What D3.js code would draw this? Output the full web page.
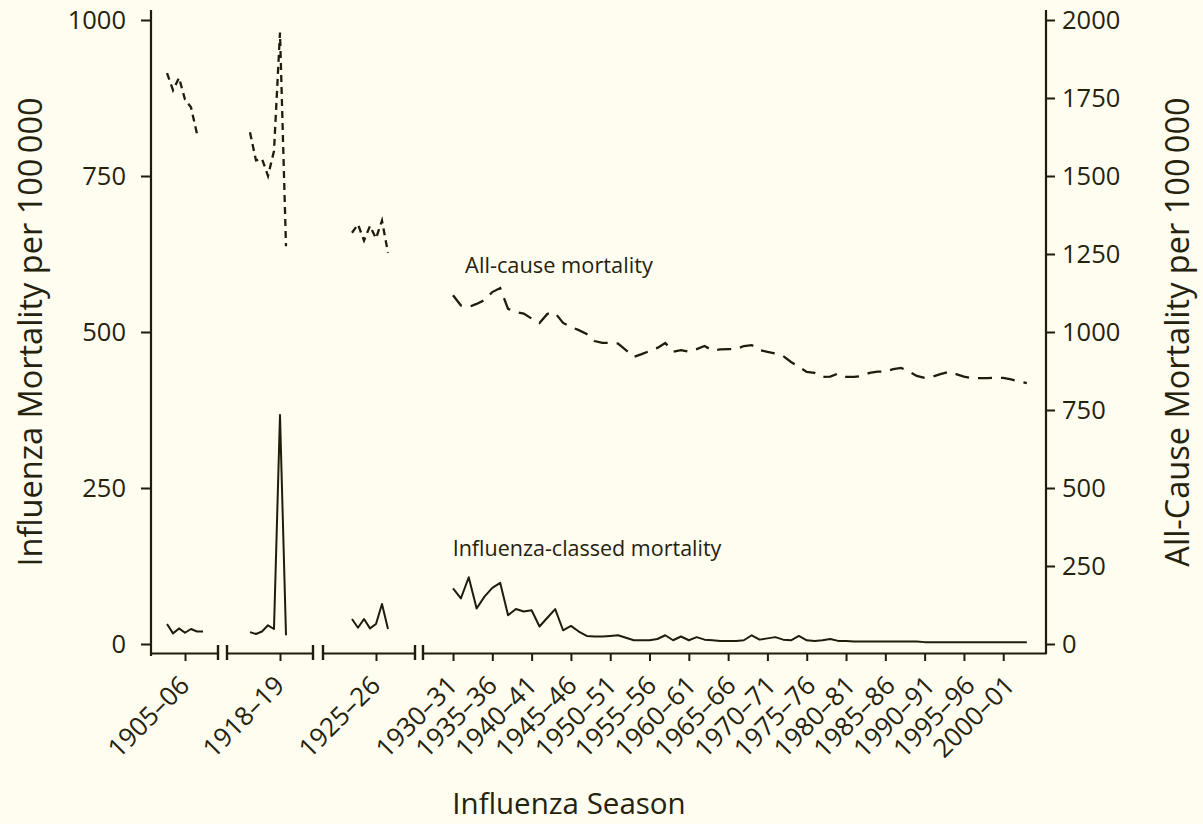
<!DOCTYPE html>
<html><head><meta charset="utf-8">
<script src="https://cdn.jsdelivr.net/npm/d3@7"></script>
<style>
body{margin:0;background:#fefdf0;}
svg{display:block;}
text{font-family:"Open Sans",sans-serif;fill:#25220e;}
</style>
</head><body><svg id="chart" width="1203" height="824"></svg>
<script>
// ---------------- data (values per 100 000, by influenza season start year) ----------------
const seasons1 = [1902, 1903, 1904, 1905, 1906, 1907, 1908];
const influenza1 = [32, 17, 25, 18, 24, 20, 20];
const allCause1 = [1830, 1775, 1815, 1745, 1720, 1635, null];

const seasons2 = [1913, 1914, 1915, 1916, 1917, 1918, 1919];
const influenza2 = [19, 16, 20, 30, 24, 367, 14];
const allCause2 = [1640, 1550, 1555, 1500, 1580, 1960, 1275];

const seasons3 = [1921, 1922, 1923, 1924, 1925, 1926, 1927];
const influenza3 = [40, 26, 40, 25, 32, 64, 24];
const allCause3 = [1318, 1345, 1293, 1340, 1300, 1357, 1254];

const seasons4 = d3.range(1930, 2004);
const influenza4 = [89, 73, 107, 57, 76, 90, 98, 46, 56, 52,
  54, 28, 42, 56, 22, 29, 20, 13, 12, 12,
  13, 14, 10, 6, 6, 6, 8, 14, 6, 12,
  6, 11, 7, 6, 5, 5, 5, 6, 14, 7,
  9, 11, 7, 6, 13, 6, 5, 6, 8, 5,
  5, 4, 4, 4, 4, 4, 4, 4, 4, 4,
  3, 3, 3, 3, 3, 3, 3, 3, 3, 3,
  3, 3, 3, 3];
const allCause4 = [1118, 1085, 1080, 1090, 1102, 1128, 1141, 1074, 1064, 1059,
  1043, 1029, 1058, 1061, 1029, 1016, 1006, 994, 971, 965,
  965, 963, 942, 920, 929, 939, 949, 965, 937, 942,
  937, 945, 955, 941, 944, 945, 945, 955, 958, 942,
  936, 931, 923, 904, 888, 872, 869, 856, 857, 867,
  856, 856, 859, 869, 873, 873, 881, 885, 873, 859,
  853, 857, 865, 872, 865, 857, 852, 852, 852, 854,
  853, 848, 841, 836];

const tickSeasons = [1905, 1918, 1925, 1930, 1935, 1940, 1945, 1950, 1955, 1960,
  1965, 1970, 1975, 1980, 1985, 1990, 1995, 2000];
const tickLabels = ["1905–06", "1918–19", "1925–26", "1930–31", "1935–36", "1940–41",
  "1945–46", "1950–51", "1955–56", "1960–61", "1965–66", "1970–71", "1975–76",
  "1980–81", "1985–86", "1990–91", "1995–96", "2000–01"];
const leftTicks = [0, 250, 500, 750, 1000];
const rightTicks = [0, 250, 500, 750, 1000, 1250, 1500, 1750, 2000];

// ---------------- layout ----------------
const ink = "#1f1c0b";
const svg = d3.select("#chart");
svg.append("rect").attr("width", 1203).attr("height", 824).attr("fill", "#fefdf0");

const plotLeft = 151, plotRight = 1046, yTop = 20, yZero = 644, axisY = 653;
const yL = d3.scaleLinear().domain([0, 1000]).range([yZero, yTop]);
const yR = d3.scaleLinear().domain([0, 2000]).range([yZero, yTop]);

// broken x axis: each segment is its own linear scale
const segments = [
  {px: [151, 218], domain: [1899.33, 1910.5], seasons: seasons1, flu: influenza1, all: allCause1, dash: "7,5", range: [1900, 1910]},
  {px: [227, 313], domain: [1909.17, 1923.5], seasons: seasons2, flu: influenza2, all: allCause2, dash: "7,5", range: [1910, 1920]},
  {px: [323, 415], domain: [1916.17, 1931.5], seasons: seasons3, flu: influenza3, all: allCause3, dash: "7,5", range: [1920, 1929]},
  {px: [423, 1046], domain: [1926.18, 2005.44], seasons: seasons4, flu: influenza4, all: allCause4, dash: "14,9", range: [1930, 2005]}
];
segments.forEach(s => { s.x = d3.scaleLinear().domain(s.domain).range(s.px); });

const g = svg.append("g");
g.append("line").attr("x1", plotLeft).attr("x2", plotLeft).attr("y1", 10).attr("y2", 656)
  .attr("stroke", ink).attr("stroke-width", 2.2);
g.append("line").attr("x1", plotRight).attr("x2", plotRight).attr("y1", 10).attr("y2", axisY + 1)
  .attr("stroke", ink).attr("stroke-width", 2.2);

const leftAxis = g.append("g").attr("transform", `translate(${plotLeft},0)`)
  .call(d3.axisLeft(yL).tickValues(leftTicks).tickSize(10).tickPadding(15).tickFormat(d3.format("d")));
const rightAxis = g.append("g").attr("transform", `translate(${plotRight},0)`)
  .call(d3.axisRight(yR).tickValues(rightTicks).tickSize(9).tickPadding(7).tickFormat(d3.format("d")));
[leftAxis, rightAxis].forEach(a => {
  a.select(".domain").remove();
  a.selectAll(".tick line").attr("stroke", ink).attr("stroke-width", 2);
  a.selectAll(".tick text").attr("font-size", 25.5).attr("font-family", "Open Sans").attr("fill", "#25220e");
});

segments.forEach((s, i) => {
  const ticks = tickSeasons.filter(t => t >= s.range[0] && t <= s.range[1]);
  const ax = g.append("g").attr("transform", `translate(0,${axisY})`)
    .call(d3.axisBottom(s.x).tickValues(ticks).tickSizeOuter(0).tickSizeInner(8).tickFormat(""));
  ax.select(".domain").attr("stroke", ink).attr("stroke-width", 2.2);
  ax.selectAll(".tick line").attr("stroke", ink).attr("stroke-width", 2);
  // break marks
  if (i > 0) g.append("line").attr("x1", s.px[0]).attr("x2", s.px[0]).attr("y1", axisY - 8).attr("y2", axisY + 7)
    .attr("stroke", ink).attr("stroke-width", 2.4);
  if (i < 3) g.append("line").attr("x1", s.px[1]).attr("x2", s.px[1]).attr("y1", axisY - 8).attr("y2", axisY + 7)
    .attr("stroke", ink).attr("stroke-width", 2.4);
  // rotated tick labels
  ticks.forEach(t => {
    const lbl = tickLabels[tickSeasons.indexOf(t)];
    const px = s.x(t) + 6 + (i === 3 ? (t - 1930) * 0.1 : 0), py = axisY + 34;
    g.append("text").attr("transform", `translate(${px},${py}) rotate(-45)`)
      .attr("text-anchor", "end").attr("font-size", 26).text(lbl);
  });

  // series
  const pts = s.seasons.map((yr, k) => ({yr, flu: s.flu[k], all: s.all[k]}));
  const fluLine = d3.line().defined(d => d.flu != null).x(d => s.x(d.yr)).y(d => yL(d.flu));
  const allLine = d3.line().defined(d => d.all != null).x(d => s.x(d.yr)).y(d => yR(d.all));
  g.append("path").attr("d", fluLine(pts)).attr("fill", "none").attr("stroke", ink)
    .attr("stroke-width", 2).attr("stroke-linejoin", "round");
  g.append("path").attr("d", allLine(pts)).attr("fill", "none").attr("stroke", ink)
    .attr("stroke-width", 2.3).attr("stroke-dasharray", s.dash);
});

// annotations
svg.append("text").attr("x", 559).attr("y", 273).attr("text-anchor", "middle").attr("font-size", 21.8)
  .text("All-cause mortality");
svg.append("text").attr("x", 587).attr("y", 556).attr("text-anchor", "middle").attr("font-size", 21.5)
  .text("Influenza-classed mortality");

// axis titles
svg.append("text").attr("transform", "translate(42,332) rotate(-90)").attr("text-anchor", "middle")
  .attr("font-size", 32.5).text("Influenza Mortality per 100\u2009000");
svg.append("text").attr("transform", "translate(1189,332) rotate(-90)").attr("text-anchor", "middle")
  .attr("font-size", 32.5).text("All-Cause Mortality per 100\u2009000");
svg.append("text").attr("x", 569).attr("y", 814).attr("text-anchor", "middle").attr("font-size", 29.5)
  .text("Influenza Season");
</script>
</body></html>
